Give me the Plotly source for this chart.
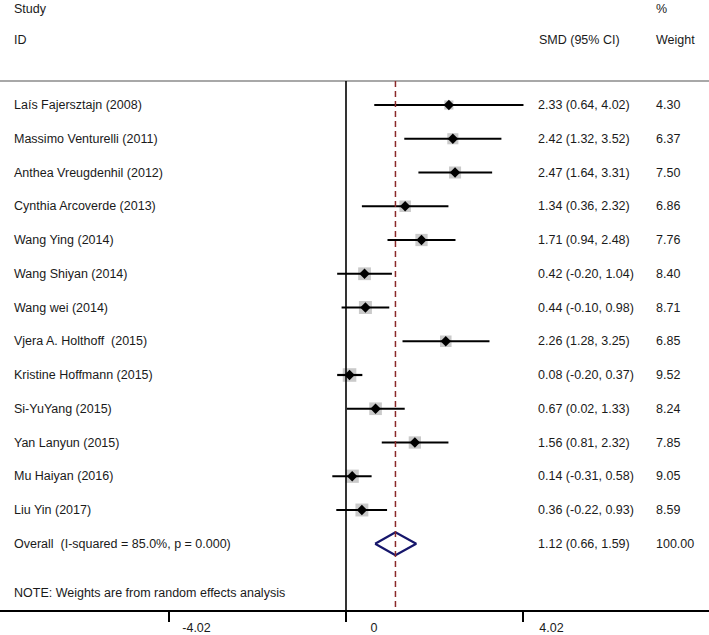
import plotly.graph_objects as go

# ---------------- data ----------------
studies = [
    "Laís Fajersztajn (2008)",
    "Massimo Venturelli (2011)",
    "Anthea Vreugdenhil (2012)",
    "Cynthia Arcoverde (2013)",
    "Wang Ying (2014)",
    "Wang Shiyan (2014)",
    "Wang wei (2014)",
    "Vjera A. Holthoff\u00a0 (2015)",
    "Kristine Hoffmann (2015)",
    "Si-YuYang (2015)",
    "Yan Lanyun (2015)",
    "Mu Haiyan (2016)",
    "Liu Yin (2017)",
]
smd = [2.33, 2.42, 2.47, 1.34, 1.71, 0.42, 0.44, 2.26, 0.08, 0.67, 1.56, 0.14, 0.36]
ci_low = [0.64, 1.32, 1.64, 0.36, 0.94, -0.20, -0.10, 1.28, -0.20, 0.02, 0.81, -0.31, -0.22]
ci_high = [4.02, 3.52, 3.31, 2.32, 2.48, 1.04, 0.98, 3.25, 0.37, 1.33, 2.32, 0.58, 0.93]
weights = [4.30, 6.37, 7.50, 6.86, 7.76, 8.40, 8.71, 6.85, 9.52, 8.24, 7.85, 9.05, 8.59]

overall_label = "Overall\u00a0 (I-squared = 85.0%, p = 0.000)"
overall_smd = 1.12
overall_low = 0.66
overall_high = 1.59
overall_weight = 100.00

note_text = "NOTE: Weights are from random effects analysis"
tick_vals = [-4.02, 0, 4.02]
tick_text = ["-4.02", "0", "4.02"]

# ---------------- layout helpers ----------------
W, H = 709, 635
PLOT_H = 610
FONT = "Liberation Sans, Arial, Helvetica, sans-serif"
FS = 12.5
TXT = "#1a1a1a"

rows = list(range(1, len(studies) + 1))
overall_row = len(studies) + 1
row_top = 1 - 105 / 33.75          # paper top in row units
row_bottom = 1 + 505 / 33.75       # paper bottom in row units
sep_row = 1 - 24 / 33.75           # separator line row position

px_per_unit = 44.15
x_left = -346 / px_per_unit
x_right = 363 / px_per_unit


def xp(px):
    return px / W


def yp(px):
    return 1 - px / PLOT_H


fmt = lambda v: f"{v:.2f}"

fig = go.Figure()

# gray weight boxes
fig.add_trace(go.Scatter(
    x=smd, y=rows, mode="markers",
    marker=dict(symbol="square", size=[4.4 * w ** 0.5 for w in weights],
                color="#b4b4b4", line=dict(width=0)),
    hoverinfo="skip", showlegend=False,
))

# CI lines + point estimates
fig.add_trace(go.Scatter(
    x=smd, y=rows, mode="markers",
    marker=dict(symbol="diamond", size=8, color="black"),
    error_x=dict(type="data", symmetric=False,
                 array=[h - s for h, s in zip(ci_high, smd)],
                 arrayminus=[s - l for s, l in zip(smd, ci_low)],
                 width=0, thickness=2.2, color="black"),
    hoverinfo="skip", showlegend=False,
))

# overall diamond
dh = 0.34
fig.add_trace(go.Scatter(
    x=[overall_low, overall_smd, overall_high, overall_smd, overall_low],
    y=[overall_row, overall_row - dh, overall_row, overall_row + dh, overall_row],
    mode="lines", line=dict(color="#16166b", width=2.2),
    hoverinfo="skip", showlegend=False,
))

shapes = [
    # separator
    dict(type="line", xref="paper", yref="y", x0=0, x1=1, y0=sep_row, y1=sep_row,
         line=dict(color="#a8a8a8", width=2)),
    # null line
    dict(type="line", xref="x", yref="y", x0=0, x1=0, y0=sep_row, y1=row_bottom,
         line=dict(color="black", width=1.6)),
    # overall effect dashed line
    dict(type="line", xref="x", yref="y", x0=overall_smd, x1=overall_smd,
         y0=sep_row, y1=row_bottom,
         line=dict(color="#8b2a2a", width=1.5, dash="6px,4px")),
]

ann = []


def add_text(text, x, y, yref="y"):
    ann.append(dict(text=text, xref="paper", x=x, yref=yref, y=y,
                    xanchor="left", yanchor="middle", showarrow=False,
                    font=dict(family=FONT, size=FS, color=TXT)))


# headers
add_text("Study", xp(12), yp(9), "paper")
add_text("ID", xp(12), yp(40), "paper")
add_text("%", xp(654), yp(9), "paper")
add_text("SMD (95% CI)", xp(537), yp(40), "paper")
add_text("Weight", xp(654), yp(40), "paper")

for r, s, e, lo, hi, w in zip(rows, studies, smd, ci_low, ci_high, weights):
    add_text(s, xp(12), r)
    add_text(f"{fmt(e)} ({fmt(lo)}, {fmt(hi)})", xp(536), r)
    add_text(fmt(w), xp(654), r)

add_text(overall_label, xp(12), overall_row)
add_text(f"{fmt(overall_smd)} ({fmt(overall_low)}, {fmt(overall_high)})", xp(536), overall_row)
add_text(fmt(overall_weight), xp(654), overall_row)
add_text(note_text, xp(12), yp(593), "paper")

fig.update_layout(
    width=W, height=H,
    margin=dict(l=0, r=0, t=0, b=H - PLOT_H, autoexpand=False),
    paper_bgcolor="white", plot_bgcolor="white",
    shapes=shapes, annotations=ann,
    xaxis=dict(range=[x_left, x_right], showgrid=False, zeroline=False,
               automargin=False,
               showline=True, linecolor="black", linewidth=1.6,
               ticks="outside", ticklen=10, tickwidth=1.5, tickcolor="black",
               tickvals=tick_vals, ticktext=tick_text, ticklabelshift=28,
               ticklabelstandoff=-5,
               tickfont=dict(family=FONT, size=FS, color=TXT), fixedrange=True),
    yaxis=dict(range=[row_bottom, row_top], visible=False, fixedrange=True,
               automargin=False),
)

fig.write_html(
    "out.html",
    config={"displayModeBar": False},
    post_script="document.body.style.margin='0';document.body.style.overflow='hidden';",
)
